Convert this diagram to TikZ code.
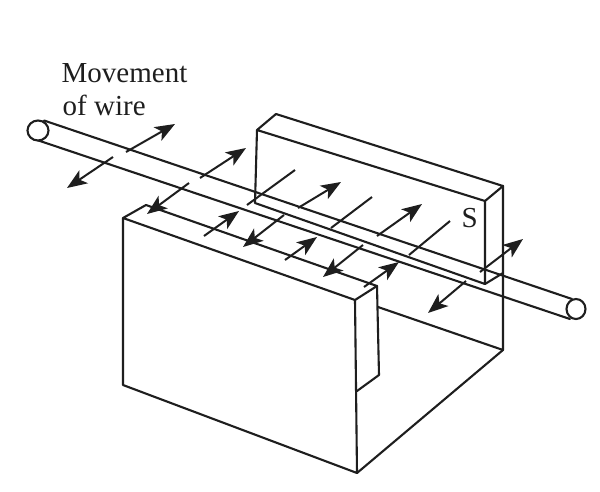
\documentclass[tikz,border=0pt]{standalone}
\usepackage{fontspec}
\setmainfont{Liberation Serif}
\usetikzlibrary{arrows.meta}
\definecolor{ink}{HTML}{1E1E1E}
\tikzset{
  edge/.style={draw=ink,line width=2.1pt,line join=round,line cap=round},
  field/.style={draw=ink,line width=2pt},
  fieldarrow/.style={field,-{Stealth[length=20pt,width=15.5pt,inset=5pt]}},
  label/.style={inner sep=0pt,anchor=base west,text=ink,font=\fontsize{29pt}{33pt}\selectfont}
}
\begin{document}
\begin{tikzpicture}[x=1pt,y=-1pt]
\useasboundingbox (0,0) rectangle (600,491);
\fill[white] (0,0) rectangle (600,491);
% upper magnet
\draw[edge] (257,130) -- (276,114) -- (503,186) -- (485,201) -- (257,130) -- (255,203) -- (485,284) -- (485,201);
\draw[edge] (485,284) -- (503,273);
\draw[edge] (503,186) -- (503,350) -- (378,307);
\draw[edge] (503,350) -- (357,473);
% front magnet
\draw[edge] (123,218) -- (146,205) -- (377,286) -- (355,300) -- (123,218) -- (123,385) -- (357,473) -- (355,300);
\draw[edge] (377,286) -- (379,375) -- (357,391);
% wire
\coordinate (wa) at (44,120.5);
\coordinate (wb) at (572,299);
\coordinate (wc) at (37,140);
\coordinate (wd) at (570,319);
\draw[edge] (wa) -- (wb);
\draw[edge] (wc) -- (wd);
\draw[edge,fill=white] (38,130.5) circle[x radius=10.5,y radius=10];
\draw[edge,fill=white] (576,309) circle[x radius=9.5,y radius=10];
% field and motion arrows
\draw[fieldarrow] (126,152) -- (175,124);
\draw[fieldarrow] (113,157) -- (67,188);
\draw[fieldarrow] (200,178) -- (246,148);
\draw[fieldarrow] (189,183) -- (147,214);
\draw[field] (247,205) -- (295,170);
\draw[fieldarrow] (204,236) -- (239,211);
\draw[fieldarrow] (284,215) -- (243,247);
\draw[fieldarrow] (285,260) -- (317,237);
\draw[fieldarrow] (298,208) -- (341,182);
\draw[field] (331,228) -- (372,197);
\draw[fieldarrow] (363,245) -- (323,277);
\draw[fieldarrow] (377,236) -- (422,204);
\draw[field] (409,255) -- (450,221);
\draw[fieldarrow] (364,287) -- (399,262);
\draw[fieldarrow] (466,281) -- (428,313);
\draw[fieldarrow] (480,272) -- (523,239);
% labels
\node[label] (mov) at (61.5,82) {Movement};
\node[label] (ofw) at (62.5,115) {of wire};
\node[label] (s) at (461.5,227.5) {S};
\end{tikzpicture}
\end{document}
